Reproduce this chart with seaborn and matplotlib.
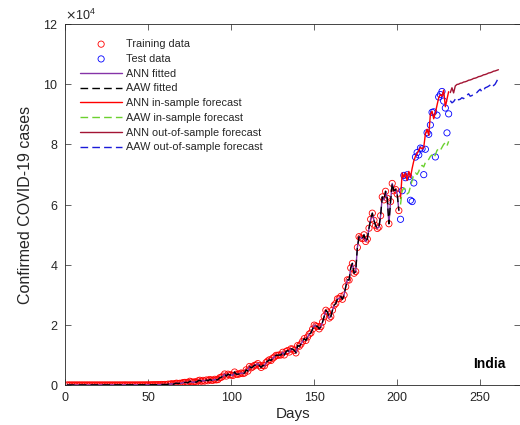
import matplotlib
matplotlib.use("Agg")
import matplotlib.pyplot as plt
import seaborn as sns
from matplotlib.ticker import ScalarFormatter

# Daily confirmed COVID-19 cases, India (day 1 = first day of the series)
train_cases = (
    # days 1-32
    [0, 1, 0, 0, 1, 1] + [0] * 26
    # days 33-63
    + [0, 2, 1, 22, 2, 1, 3, 5, 4, 6, 6, 11, 8, 17, 12, 15, 28, 14, 37, 57,
       65, 79, 71, 111, 67, 179, 130, 187, 92, 302, 207]
    # days 64-93
    + [437, 235, 477, 609, 484, 573, 565, 813, 871, 854, 758, 1243, 1031, 886,
       1061, 922, 1371, 1580, 1239, 1537, 1292, 1667, 1408, 1835, 1607, 1568,
       1902, 1705, 1801, 2396]
    # days 94-124
    + [2564, 2952, 3656, 2971, 3602, 3344, 3339, 3175, 4311, 3592, 3562, 3726,
       3991, 3808, 3970, 5050, 4628, 6154, 5720, 6023, 6536, 6667, 7111, 6414,
       5843, 6535, 6387, 7466, 7964, 8380, 8171]
    # days 125-154
    + [8909, 9304, 9851, 9887, 9971, 9983, 10882, 9987, 11128, 11458, 10956,
       12023, 11929, 11502, 10667, 13103, 12881, 13586, 14516, 15413, 14821,
       15968, 16922, 17296, 18552, 19906, 19620, 19459, 18653, 19428]
    # days 155-185
    + [20903, 22771, 24850, 24248, 22252, 22752, 24879, 26506, 27114, 28637,
       28701, 29429, 28498, 29917, 32695, 34956, 34884, 38902, 40425, 37148,
       37724, 45720, 49310, 48916, 48661, 49931, 47704, 48513, 52123, 55079,
       57118]
    # days 186-201
    + [54735, 52972, 52050, 52509, 56282, 62538, 61537, 64399, 62064, 53601,
       60963, 66999, 64553, 65002, 63490, 57981]
)

# days 202-231
test_cases = [55079, 64572, 69672, 68900, 69878, 69239, 61408, 60975, 67151,
              75760, 77266, 76472, 78761, 78512, 69921, 78357, 83883, 83341,
              86432, 90632, 90802, 75809, 89706, 95735, 96551, 97570, 94372,
              92071, 83809, 90123]

# fitted values over the training window
ann_fitted = train_cases
aaw_fitted = train_cases

# in-sample forecasts over the test window
ann_in_sample = [62000, 70500, 69000, 70500, 68000, 71000, 69000, 72000, 74500,
                 76000, 77000, 78000, 79000, 78500, 79000, 83500, 85000, 83000,
                 90000, 91000, 88500, 90500, 93000, 95500, 96500, 96000, 98000,
                 92500, 95000, 97500]
aaw_in_sample = [60000, 64500, 65500, 65000, 63500, 64000, 66000, 68000, 70000,
                 70500, 70000, 71000, 72500, 73000, 72500, 74000, 74500, 75000,
                 76000, 76500, 75500, 76500, 78000, 78500, 78000, 79000, 80000,
                 80500, 79500, 81000]

# out-of-sample forecasts, days 232-261
ann_out_sample = [97200, 98800, 97100, 99400, 99900, 100000, 100300, 100400,
                  100700, 100800, 101000, 101300, 101400, 101600, 101900,
                  102000, 102200, 102500, 102600, 102800, 103100, 103200,
                  103400, 103700, 103800, 104000, 104300, 104400, 104600,
                  104800]
aaw_out_sample = [94500, 93800, 94200, 95000, 95500, 94800, 95000, 95500, 95200,
                  95700, 96300, 96800, 96000, 96200, 96700, 97000, 97200, 97800,
                  98300, 97500, 97800, 98800, 99000, 99300, 99700, 100200,
                  99500, 100000, 101000, 102200]

train_days = list(range(1, len(train_cases) + 1))
test_days = list(range(train_days[-1] + 1, train_days[-1] + 1 + len(test_cases)))
out_days = list(range(test_days[-1] + 1, test_days[-1] + 1 + len(ann_out_sample)))

x_ticks = [0, 50, 100, 150, 200, 250]
y_ticks = [0, 20000, 40000, 60000, 80000, 100000, 120000]

sns.set_style("white")
plt.rcParams["font.family"] = ["Liberation Sans", "DejaVu Sans"]
plt.rcParams["lines.scale_dashes"] = False
plt.rcParams["lines.dashed_pattern"] = [5.5, 3.0]

axis_col = (0.15, 0.15, 0.15)

fig = plt.figure(figsize=(5.2, 4.25), dpi=100)
ax = fig.add_axes([65.3 / 520, 40 / 425, (520 - 65.3) / 520, 361 / 425])

handles, labels = [], []

def add_points(days, values, col, label):
    sns.scatterplot(x=days, y=values, ax=ax, marker="o", s=20, color=col,
                    facecolor="none", edgecolor=col, linewidth=0.6,
                    legend=False, zorder=2)
    handles.append(ax.collections[-1])
    labels.append(label)

def add_line(days, values, col, label, ls="-"):
    sns.lineplot(x=days, y=values, ax=ax, color=col, lw=1.0, linestyle=ls,
                 errorbar=None, legend=False, zorder=3)
    handles.append(ax.lines[-1])
    labels.append(label)

add_points(train_days, train_cases, "red", "Training data")
add_points(test_days, test_cases, "blue", "Test data")
add_line(train_days, ann_fitted, (0.52, 0.2, 0.66), "ANN fitted")
add_line(train_days, aaw_fitted, "black", "AAW fitted", "--")
add_line(test_days, ann_in_sample, "red", "ANN in-sample forecast")
add_line(test_days, aaw_in_sample, (0.42, 0.82, 0.18),
         "AAW in-sample forecast", "--")
add_line(out_days, ann_out_sample, (0.64, 0.08, 0.2),
         "ANN out-of-sample forecast")
add_line(out_days, aaw_out_sample, (0.1, 0.1, 0.85),
         "AAW out-of-sample forecast", "--")

ax.set_xlim(0, 274)
ax.set_ylim(0, 120000)
ax.set_xticks(x_ticks)
ax.set_yticks(y_ticks)

fmt = ScalarFormatter(useMathText=True)
fmt.set_powerlimits((4, 4))
ax.yaxis.set_major_formatter(fmt)
ax.yaxis.get_offset_text().set_fontsize(9)
ax.yaxis.get_offset_text().set_color(axis_col)

ax.tick_params(direction="in", length=4, width=0.5, bottom=True, left=True,
               top=True, right=True, labelsize=9, colors=axis_col, pad=5)
for sp in ax.spines.values():
    sp.set_visible(True)
    sp.set_color(axis_col)
    sp.set_linewidth(0.6)

ax.set_xlabel("Days", fontsize=11, color=axis_col, labelpad=2)
ax.set_ylabel("Confirmed COVID-19 cases", fontsize=11.5, color=axis_col,
              labelpad=7)

ax.text(265, 7000, "India", fontsize=10, fontweight="bold", ha="right",
        va="center", color="black")

ax.legend(handles, labels, loc="upper left",
          bbox_to_anchor=(80 / 520, 1 - 39 / 425),
          bbox_transform=fig.transFigure, frameon=False, fontsize=7.8,
          handlelength=3.9, handletextpad=0.35, labelspacing=0.44,
          borderpad=0, borderaxespad=0, scatterpoints=1)

fig.savefig("out.png", dpi=100)
